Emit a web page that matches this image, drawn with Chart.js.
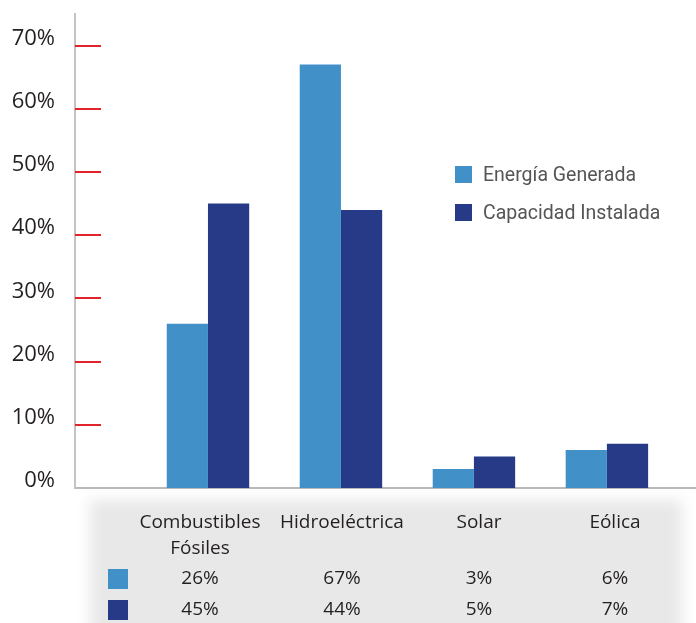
<!DOCTYPE html>
<html lang="es">
<head>
<meta charset="utf-8">
<title>Energía generada y capacidad instalada</title>
<script src="https://cdn.jsdelivr.net/npm/chart.js@4/dist/chart.umd.min.js"></script>
<style>
  html, body { margin: 0; padding: 0; background: #fff; }
  #wrap { position: relative; width: 696px; height: 623px; overflow: hidden; }
  #chart { position: absolute; left: 0; top: 0; }
  #tableBg {
    position: absolute; left: 90px; top: 500px; width: 592px; height: 150px;
    background: #e7e8e7; filter: blur(7px);
  }
  #legend {
    position: absolute; left: 455px; top: 155px;
    font-family: Roboto, sans-serif; font-size: 19.5px; color: #555;
  }
  .lg { display: flex; align-items: center; height: 38px; white-space: nowrap; }
  .lg .sw { width: 17px; height: 17px; margin-right: 11px; }
  #dataTable {
    position: absolute; left: 100px; top: 508px;
    border-collapse: collapse; table-layout: fixed;
    font-family: "Open Sans", sans-serif; font-size: 19px; color: #231f20;
  }
  #dataTable td { padding: 0; text-align: center; }
  #dataTable tr.head td { line-height: 26px; height: 54px; vertical-align: top; }
  #dataTable tr.vals td { line-height: 31px; height: 31px; }
  #dataTable td.swc { text-align: left; padding-left: 8px; }
  #dataTable .sw { display: inline-block; width: 20px; height: 20px; vertical-align: middle; }
</style>
</head>
<body>
<div id="wrap">
  <div id="tableBg"></div>
  <canvas id="chart" width="696" height="623"></canvas>
  <div id="legend"></div>
  <table id="dataTable"></table>
</div>
<script>
// Share of each energy source (%)
const categories = ['Combustibles Fósiles', 'Hidroeléctrica', 'Solar', 'Eólica'];
const seriesNames = ['Energía Generada', 'Capacidad Instalada'];
const energiaGenerada = [26, 67, 3, 6];
const capacidadInstalada = [45, 44, 5, 7];
const yTicks = [0, 10, 20, 30, 40, 50, 60, 70];

const seriesColors = ['#4290c8', '#273a87'];
const seriesValues = [energiaGenerada, capacidadInstalada];

// Categories sit at x = 1..n on a linear index axis, leaving the gap next to the y axis
const categoryPositions = categories.map((c, i) => i + 1);
const toPoints = vals => vals.map((v, i) => ({ x: categoryPositions[i], y: v }));

// Short red tick marks drawn just inside the plot, to the right of the y axis
const tickMarks = {
  id: 'tickMarks',
  afterDraw(chart) {
    const y = chart.scales.y;
    const ctx = chart.ctx;
    ctx.save();
    ctx.strokeStyle = '#e3232b';
    ctx.lineWidth = 2;
    y.ticks.forEach(t => {
      if (t.value === 0) return;
      const py = Math.round(y.getPixelForValue(t.value));
      ctx.beginPath();
      ctx.moveTo(y.right, py);
      ctx.lineTo(y.right + 26, py);
      ctx.stroke();
    });
    ctx.restore();
  }
};

const chart = new Chart(document.getElementById('chart'), {
  type: 'bar',
  data: {
    datasets: seriesNames.map((name, k) => ({
      label: name,
      data: toPoints(seriesValues[k]),
      backgroundColor: seriesColors[k],
      borderWidth: 0,
      categoryPercentage: 0.62,
      barPercentage: 1.0
    }))
  },
  options: {
    responsive: false,
    animation: false,
    layout: { padding: { top: 14, right: 0, bottom: 135, left: 0 } },
    plugins: {
      legend: { display: false },
      tooltip: { enabled: false }
    },
    scales: {
      x: {
        type: 'linear',
        offset: false,
        min: 0,
        max: 4.67,
        afterBuildTicks(scale) { scale.ticks = categoryPositions.map(v => ({ value: v })); },
        ticks: { display: false },
        grid: { display: false, drawTicks: false },
        border: { display: true, color: '#b9b9b9', width: 2 },
        afterFit(scale) {
          scale.height = 0;
          scale.paddingLeft = 0; scale.paddingRight = 0;
        }
      },
      y: {
        min: 0,
        max: 75,
        afterBuildTicks(scale) { scale.ticks = yTicks.map(v => ({ value: v })); },
        ticks: {
          padding: 20,
          labelOffset: -7,
          color: '#231f20',
          font: { family: 'Open Sans', size: 22 },
          callback: v => v + '%'
        },
        grid: { display: false, drawTicks: false },
        border: { display: true, color: '#c4c4c4', width: 2 },
        afterFit(scale) {
          scale.width = 75;
          scale.paddingTop = 0; scale.paddingBottom = 0;
        }
      }
    }
  },
  plugins: [tickMarks]
});

// Legend inside the plot, built from the datasets
const legendEl = document.getElementById('legend');
chart.data.datasets.forEach(ds => {
  const row = document.createElement('div');
  row.className = 'lg';
  const sw = document.createElement('span');
  sw.className = 'sw';
  sw.style.background = ds.backgroundColor;
  const txt = document.createElement('span');
  txt.textContent = ds.label;
  row.appendChild(sw);
  row.appendChild(txt);
  legendEl.appendChild(row);
});

// Data table under the chart
const table = document.getElementById('dataTable');
const colWidths = [30, 140, 144, 130, 142];
const cg = document.createElement('colgroup');
colWidths.forEach(w => {
  const c = document.createElement('col');
  c.style.width = w + 'px';
  cg.appendChild(c);
});
table.appendChild(cg);

const head = document.createElement('tr');
head.className = 'head';
head.appendChild(document.createElement('td'));
categories.forEach(cat => {
  const td = document.createElement('td');
  td.textContent = cat;
  head.appendChild(td);
});
table.appendChild(head);

seriesValues.forEach((vals, k) => {
  const tr = document.createElement('tr');
  tr.className = 'vals';
  const swc = document.createElement('td');
  swc.className = 'swc';
  const sw = document.createElement('span');
  sw.className = 'sw';
  sw.style.background = seriesColors[k];
  swc.appendChild(sw);
  tr.appendChild(swc);
  vals.forEach(v => {
    const td = document.createElement('td');
    td.textContent = v + '%';
    tr.appendChild(td);
  });
  table.appendChild(tr);
});
</script>
</body>
</html>
